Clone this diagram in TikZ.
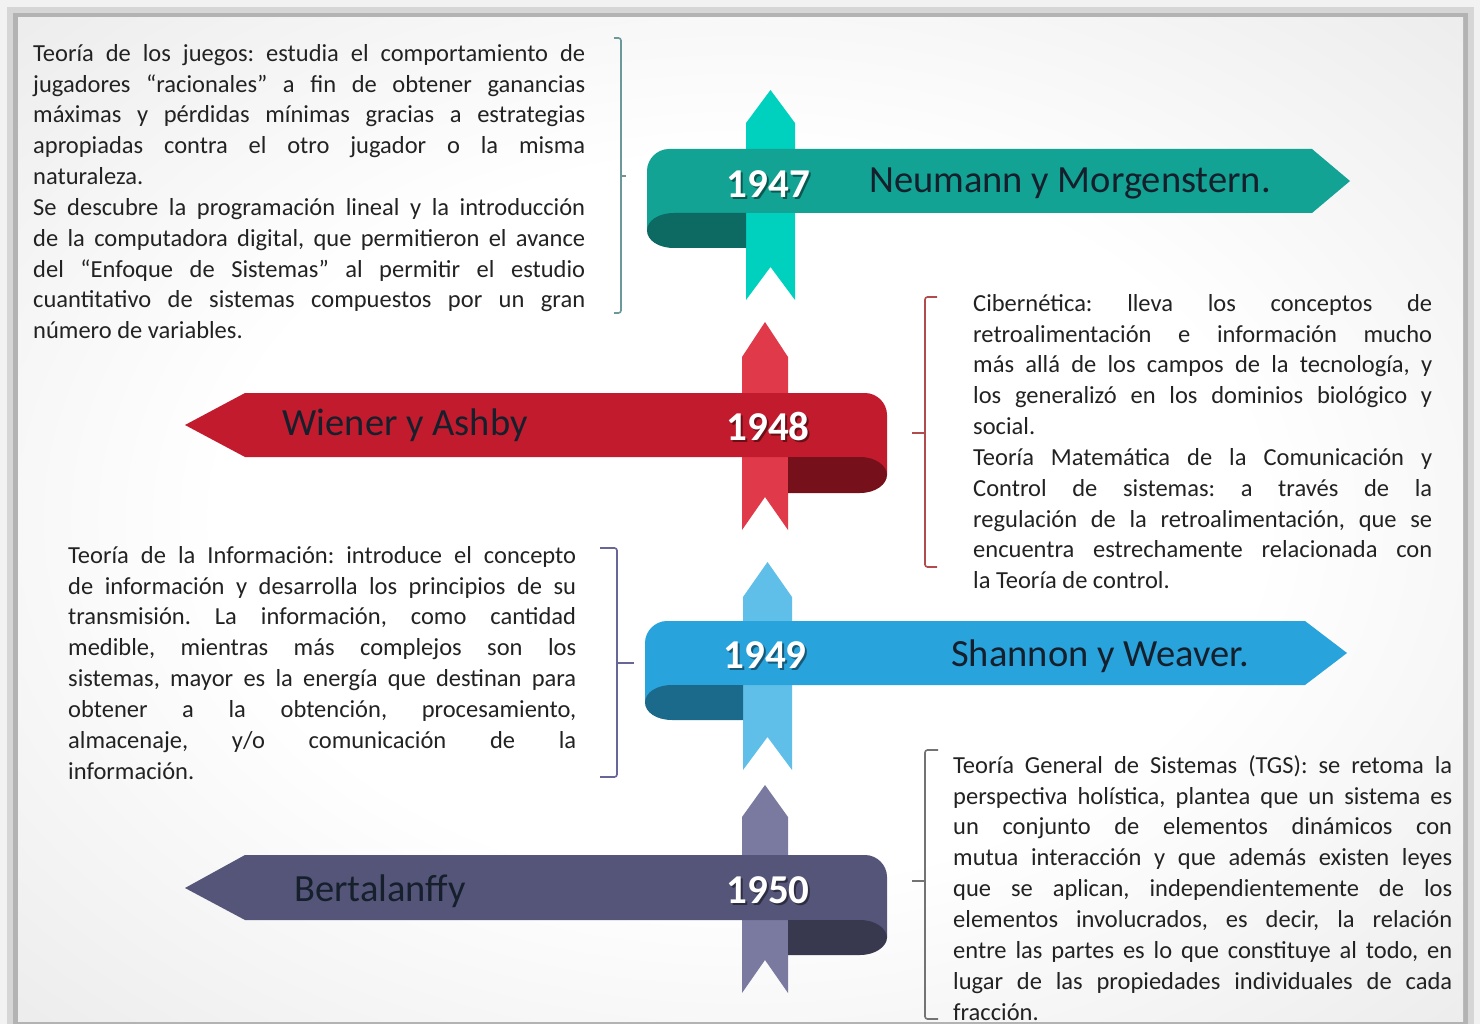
\documentclass[tikz,border=0pt]{standalone}
\usepackage{fontspec}
\setmainfont{Carlito}
\frenchspacing

% colours of the four ribbons: band, upright strip, rolled-back end
\definecolor{tealband}{HTML}{12A394}
\definecolor{tealstrip}{HTML}{00D1BE}
\definecolor{tealdark}{HTML}{0C6A62}
\definecolor{redband}{HTML}{C21B2D}
\definecolor{redstrip}{HTML}{E0394A}
\definecolor{reddark}{HTML}{76101B}
\definecolor{blueband}{HTML}{29A3DC}
\definecolor{bluestrip}{HTML}{60BFE8}
\definecolor{bluedark}{HTML}{1B6A8C}
\definecolor{violetband}{HTML}{55557A}
\definecolor{violetstrip}{HTML}{7A7AA1}
\definecolor{violetdark}{HTML}{38384F}
\definecolor{bodytext}{HTML}{222222}
\definecolor{nametext}{HTML}{16202C}
\definecolor{frameouter}{HTML}{D6D6D6}
\definecolor{frameline}{HTML}{B3B3B3}
\definecolor{slideedge}{HTML}{DDDDDD}

\pgfdeclareradialshading{slidebg}{\pgfpoint{0bp}{0bp}}{%
  color(0bp)=(white); color(18bp)=(white); color(50bp)=(slideedge); color(72bp)=(slideedge)}

% a text block is a stack of lines: justified ones and a ragged last one
\newdimen\blockw
\newcommand{\jline}[1]{\hbox to \blockw{\strut #1}}
\newcommand{\eline}[1]{\hbox{\strut #1}}
\newcommand{\lines}[2]{\vbox{\blockw=#1\relax #2}}

\tikzset{
  textblock/.style={anchor=north west, inner sep=0pt, text=bodytext,
    font=\fontsize{24.5}{30.85}\selectfont},
  yearlabel/.style={anchor=base, inner sep=0pt, text=white,
    font=\fontsize{41}{41}\selectfont\bfseries},
  yearshade/.style={yearlabel, text=black, opacity=0.45},
  person/.style={anchor=base, inner sep=0pt, text=nametext,
    font=\fontsize{38.5}{38.5}\selectfont},
  bracket/.style={line width=1.6pt, rounded corners=2.5pt}
}

\begin{document}
\begin{tikzpicture}[x=1pt, y=-1pt]
\useasboundingbox (0,0) rectangle (1480,1024);

% slide frame and background
\fill[white!95!black] (0,0) rectangle (1480,1024);
\fill[frameouter] (7,7) rectangle (1474,1024);
\fill[frameline] (13,13) rectangle (1468,1024);
\shade[shading=slidebg] (18,18) rectangle (1463,1021);

% ---------------- 1947 ----------------
\fill[tealstrip] (746,123) -- (770.5,90) -- (795,123) -- (795,300) -- (770.5,267) -- (746,300) -- cycle;
\fill[tealband] (647,231) -- (647,171) .. controls (647,159) and (657,149) .. (669,149)
  -- (1312,149) -- (1350,181) -- (1312,213) -- (676,213) -- cycle;
\fill[tealdark] (746,213) -- (674,213) .. controls (658,213) and (647,221) .. (647,230.5)
  .. controls (647,240) and (658,248) .. (674,248) -- (746,248) -- cycle;
\node[yearshade] at (770.5,200) {1947};
\node[yearlabel] (y1947) at (768.5,198) {1947};
\node[person] (n1947) at (1070,193) {Neumann y Morgenstern.};

% ---------------- 1948 ----------------
\fill[redstrip] (742,357) -- (765,322) -- (788,357) -- (788,530) -- (765,497) -- (742,530) -- cycle;
\fill[redband] (185,425) -- (245,393) -- (865,393) .. controls (877,393) and (887,403) .. (887,415)
  -- (887,475) -- (858,457) -- (245,457) -- cycle;
\fill[reddark] (788,457) -- (860,457) .. controls (876,457) and (887,466) .. (887,475)
  .. controls (887,484) and (876,493) .. (860,493) -- (788,493) -- cycle;
\node[yearshade] at (770,442) {1948};
\node[yearlabel] (y1948) at (768,440) {1948};
\node[person] (n1948) at (405,435) {Wiener y Ashby};

% ---------------- 1949 ----------------
\fill[bluestrip] (743,597) -- (767.5,562) -- (792,597) -- (792,770) -- (767.5,737) -- (743,770) -- cycle;
\fill[blueband] (645,703) -- (645,643) .. controls (645,631) and (655,621) .. (667,621)
  -- (1305,621) -- (1347,653) -- (1305,685) -- (674,685) -- cycle;
\fill[bluedark] (743,685) -- (672,685) .. controls (656,685) and (645,693) .. (645,702.5)
  .. controls (645,712) and (656,720) .. (672,720) -- (743,720) -- cycle;
\node[yearshade] at (767,670) {1949};
\node[yearlabel] (y1949) at (765,668) {1949};
\node[person] (n1949) at (1100,666) {Shannon y Weaver.};

% ---------------- 1950 ----------------
\fill[violetstrip] (742,817) -- (765,785) -- (788,817) -- (788,993) -- (765,960) -- (742,993) -- cycle;
\fill[violetband] (185,888) -- (245,855) -- (865,855) .. controls (877,855) and (887,865) .. (887,877)
  -- (887,937.5) -- (858,920) -- (245,920) -- cycle;
\fill[violetdark] (788,920) -- (860,920) .. controls (876,920) and (887,929) .. (887,937.5)
  .. controls (887,946) and (876,955) .. (860,955) -- (788,955) -- cycle;
\node[yearshade] at (770,905) {1950};
\node[yearlabel] (y1950) at (768,903) {1950};
\node[person] (n1950) at (380,901) {Bertalanffy};

% ---------------- text blocks ----------------
\node[textblock] (t1947) at (33,39.4) {\lines{552pt}{%
  \jline{Teoría de los juegos: estudia el comportamiento de}
  \jline{jugadores “racionales” a fin de obtener ganancias}
  \jline{máximas y pérdidas mínimas gracias a estrategias}
  \jline{apropiadas contra el otro jugador o la misma}
  \eline{naturaleza.}
  \jline{Se descubre la programación lineal y la introducción}
  \jline{de la computadora digital, que permitieron el avance}
  \jline{del “Enfoque de Sistemas” al permitir el estudio}
  \jline{cuantitativo de sistemas compuestos por un gran}
  \eline{número de variables.}}};

\node[textblock] (t1948) at (973,289.4) {\lines{459pt}{%
  \jline{Cibernética: lleva los conceptos de}
  \jline{retroalimentación e información mucho}
  \jline{más allá de los campos de la tecnología, y}
  \jline{los generalizó en los dominios biológico y}
  \eline{social.}
  \jline{Teoría Matemática de la Comunicación y}
  \jline{Control de sistemas: a través de la}
  \jline{regulación de la retroalimentación, que se}
  \jline{encuentra estrechamente relacionada con}
  \eline{la Teoría de control.}}};

\node[textblock] (t1949) at (68,541.4) {\lines{508pt}{%
  \jline{Teoría de la Información: introduce el concepto}
  \jline{de información y desarrolla los principios de su}
  \jline{transmisión. La información, como cantidad}
  \jline{medible, mientras más complejos son los}
  \jline{sistemas, mayor es la energía que destinan para}
  \jline{obtener a la obtención, procesamiento,}
  \jline{almacenaje, y/o comunicación de la}
  \eline{información.}}};

\node[textblock] (t1950) at (953,751.4) {\lines{499pt}{%
  \jline{Teoría General de Sistemas (TGS): se retoma la}
  \jline{perspectiva holística, plantea que un sistema es}
  \jline{un conjunto de elementos dinámicos con}
  \jline{mutua interacción y que además existen leyes}
  \jline{que se aplican, independientemente de los}
  \jline{elementos involucrados, es decir, la relación}
  \jline{entre las partes es lo que constituye al todo, en}
  \jline{lugar de las propiedades individuales de cada}
  \eline{fracción.}}};

% ---------------- brackets ----------------
\draw[bracket, color=teal!45!gray!80] (614,38) -- (621,38) -- (621,313) -- (614,313);
\draw[bracket, color=teal!45!gray!80] (621,176) -- (626,176);

\draw[bracket, color=red!40!gray] (937,297) -- (925,297) -- (925,567) -- (937,567);
\draw[bracket, color=red!40!gray] (925,433) -- (912,433);

\draw[bracket, color=blue!20!gray] (600,548) -- (617,548) -- (617,777) -- (600,777);
\draw[bracket, color=blue!20!gray] (617,663) -- (634,663);

\draw[bracket, color=gray!90!black] (938,750) -- (925,750) -- (925,1019) -- (938,1019);
\draw[bracket, color=gray!90!black] (925,881) -- (912,881);
\end{tikzpicture}
\end{document}
